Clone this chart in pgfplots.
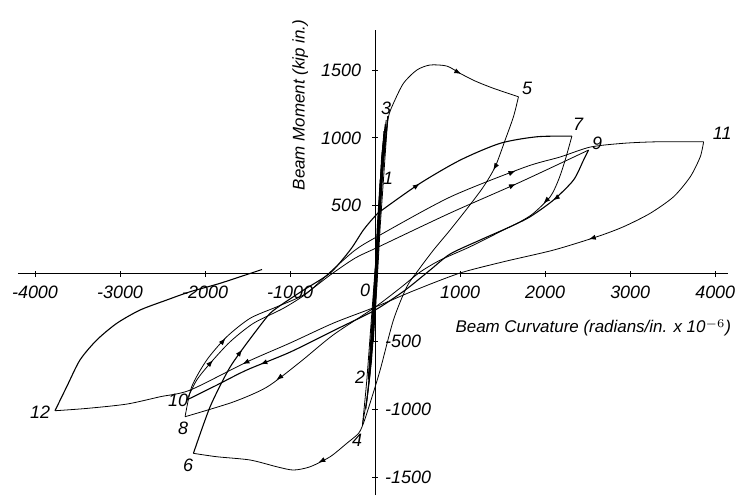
\documentclass[border=0pt]{standalone}
\usepackage{fontspec}
\setmainfont{Liberation Sans}
\usepackage{pgfplots}
\usepackage{pgfplotstable}
\pgfplotsset{compat=1.18}
\usetikzlibrary{arrows.meta, decorations.markings}
\tikzset{
  tri/.style={postaction={decorate}, decoration={markings,
    mark=at position #1 with {\arrow[black]{Latex[length=3.5bp,width=2.6bp]}}}},
  tritwo/.style 2 args={postaction={decorate}, decoration={markings,
    mark=at position #1 with {\arrow[black]{Latex[length=3.5bp,width=2.6bp]}},
    mark=at position #2 with {\arrow[black]{Latex[length=3.5bp,width=2.6bp]}}}},
  sm/.style={smooth, tension=0.45},
}
% branches of the hysteresis loops (curvature x1e-6, moment kip-in)
\pgfplotstableread{
x y
-150 -1120
-100 -800
-40 -300
20 200
80 700
120 950
156 1153
215 1254
333 1402
491 1500
647 1537
844 1529
1000 1475
1176 1419
1392 1365
1686 1303
}\bFive
\pgfplotstableread{
x y
1686 1303
1627 1156
1529 984
1412 787
1274 640
1098 492
882 321
686 173
509 26
373 -97
215 -343
59 -711
-59 -954
-138 -1104
-196 -1178
-333 -1251
-529 -1350
-765 -1424
-961 -1448
-1156 -1424
-1471 -1374
-1862 -1350
-2137 -1325
}\bSix
\pgfplotstableread{
x y
-2137 -1325
-1941 -982
-1726 -711
-1568 -564
-1392 -416
-1235 -293
-1079 -220
-843 -122
-529 4
-294 173
-138 321
0 424
82 468
529 665
1000 836
1471 960
1902 1008
2314 1013
}\bSeven
\pgfplotstableread{
x y
2314 1013
2235 836
2156 689
2059 566
1862 444
1706 382
1510 321
1118 198
765 99
529 11
294 -107
0 -247
-494 -453
-882 -652
-1271 -836
-1671 -947
-2235 -1055
}\bEight
\pgfplotstableread{
x y
-2235 -1055
-2157 -834
-1980 -637
-1745 -466
-1471 -330
-1156 -245
-843 -158
-529 -11
-235 114
35 195
882 446
1706 674
2510 910
}\bNine
\pgfplotstableread{
x y
2510 910
2451 836
2333 689
2098 542
1824 419
1588 345
1235 247
882 144
647 26
353 -122
0 -269
-451 -409
-1000 -579
-1510 -711
-1862 -822
-2216 -932
}\bTen
\pgfplotstableread{
x y
-2216 -932
-2098 -785
-1941 -662
-1706 -503
-1432 -367
-1079 -256
-804 -146
-529 11
-235 173
35 276
882 564
1765 785
2176 859
2529 932
2921 960
3314 971
3863 971
}\bEleven
\pgfplotstableread{
x y
3863 971
3824 861
3706 713
3510 566
3235 444
2921 345
2608 271
2098 173
1510 87
1000 4
471 -122
0 -247
-490 -365
-1000 -512
-1510 -652
-2176 -859
-2529 -908
-2921 -962
-3392 -994
-3765 -1011
}\bTwelve
\pgfplotstableread{
x y
-3765 -1011
-3627 -834
-3471 -637
-3274 -490
-3039 -367
-2765 -269
-2451 -195
-2176 -134
-1824 -72
-1330 30
}\bEnd
\begin{document}
\begin{tikzpicture}
\begin{axis}[
  at={(0,0)}, anchor=south west,
  scale only axis, width=355bp, height=232.5bp,
  xmin=-4200, xmax=4150, ymin=-1632, ymax=1795,
  axis lines=middle, axis line style={-, line width=0.6pt},
  xtick={-4000,-3000,-2000,-1000,1000,2000,3000,4000},
  xticklabels={-4000,-3000,-2000,-1000,1000,2000,3000,4000},
  ytick={500,1000,1500}, yticklabels={500,1000,1500},
  extra y ticks={-500,-1000,-1500}, extra y tick labels={-500,-1000,-1500},
  extra y tick style={yticklabel style={anchor=west, xshift=5bp}},
  yticklabel style={xshift=-2bp},
  xticklabel style={yshift=-1bp},
  tick label style={font=\fontsize{9}{10}\selectfont\itshape},
  major tick length=3bp,
  tick style={black, line width=0.5pt},
  clip=false,
  no markers,
  cycle list={{black, solid, line width=0.55pt}},
]
% early cycles (dense band near the origin)
\addplot coordinates {(0,0) (35,340) (70,690)};
\addplot coordinates {(70,690) (45,300) (10,-100) (-30,-450) (-80,-780)};
\addplot coordinates {(-80,-780) (-40,-380) (0,0) (50,450) (100,850) (150,1160)};
\addplot coordinates {(150,1160) (110,800) (60,350) (20,-100) (-30,-500) (-90,-900) (-150,-1120)};
\addplot coordinates {(0,0) (25,350) (60,700) (30,300) (0,-100) (-40,-500) (-70,-760) (-30,-350) (10,50) (40,400) (90,800)};
\addplot coordinates {(-40,-600) (-10,-200) (20,200) (55,600) (85,900) (120,1100) (80,700) (40,250) (5,-250) (-45,-650) (-110,-1000)};
\addplot coordinates {(-60,-700) (-25,-300) (10,100) (45,500) (75,850) (110,1050) (95,900) (55,450) (15,-50) (-20,-400) (-60,-750) (-100,-950)};
\addplot coordinates {(-20,-500) (5,-100) (30,250) (65,650) (100,980) (130,1130) (90,750) (50,350) (10,-150) (-50,-600)};
\addplot coordinates {(-5,-300) (15,0) (40,350) (70,750) (105,1050) (70,650) (30,200) (-5,-200) (-35,-550)};
% main loops, drawn smooth
\addplot+[sm] table {\bFive};
\addplot+[sm] table {\bSix};
\addplot+[sm] table {\bSeven};
\addplot+[sm] table {\bEight};
\addplot+[sm] table {\bNine};
\addplot+[sm] table {\bTen};
\addplot+[sm] table {\bEleven};
\addplot+[sm] table {\bTwelve};
\addplot+[sm] table {\bEnd};
% direction arrowheads along the same branches
\addplot+[draw=none, tri=0.87] table {\bFive};
\addplot+[draw=none, tritwo={0.14}{0.77}] table {\bSix};
\addplot+[draw=none, tritwo={0.22}{0.69}] table {\bSeven};
\addplot+[draw=none, tritwo={0.15}{0.8}] table {\bEight};
\addplot+[draw=none, tritwo={0.18}{0.84}] table {\bNine};
\addplot+[draw=none, tritwo={0.13}{0.83}] table {\bTen};
\addplot+[draw=none, tritwo={0.08}{0.68}] table {\bEleven};
\addplot+[draw=none, tritwo={0.22}{0.73}] table {\bTwelve};

% peak numbers
\begin{scope}[every node/.style={font=\fontsize{9}{10}\selectfont\itshape, inner sep=0pt}]
\node at (axis cs:153,704) {1};
\node at (axis cs:-176,-763) {2};
\node at (axis cs:129,1220) {3};
\node at (axis cs:-212,-1227) {4};
\node at (axis cs:1788,1367) {5};
\node at (axis cs:-2200,-1411) {6};
\node at (axis cs:2388,1102) {7};
\node at (axis cs:-2259,-1139) {8};
\node at (axis cs:2612,962) {9};
\node at (axis cs:-2318,-932) {10};
\node at (axis cs:4082,1035) {11};
\node at (axis cs:-3941,-1021) {12};
\node at (axis cs:-118,-122) {0};
\end{scope}
\node[rotate=90, font=\fontsize{8.5}{10}\selectfont\itshape] at (axis cs:-882,1242) {Beam Moment (kip in.)};
\node[anchor=west, inner sep=0pt, font=\fontsize{8.5}{10}\selectfont\itshape] at (axis cs:941,-400) {Beam Curvature (radians/in. x 10$^{-6}$)};
\end{axis}
\pgfresetboundingbox
\path[use as bounding box] (-9bp,-1bp) rectangle (364.5bp,247.5bp);
\end{tikzpicture}
\end{document}
